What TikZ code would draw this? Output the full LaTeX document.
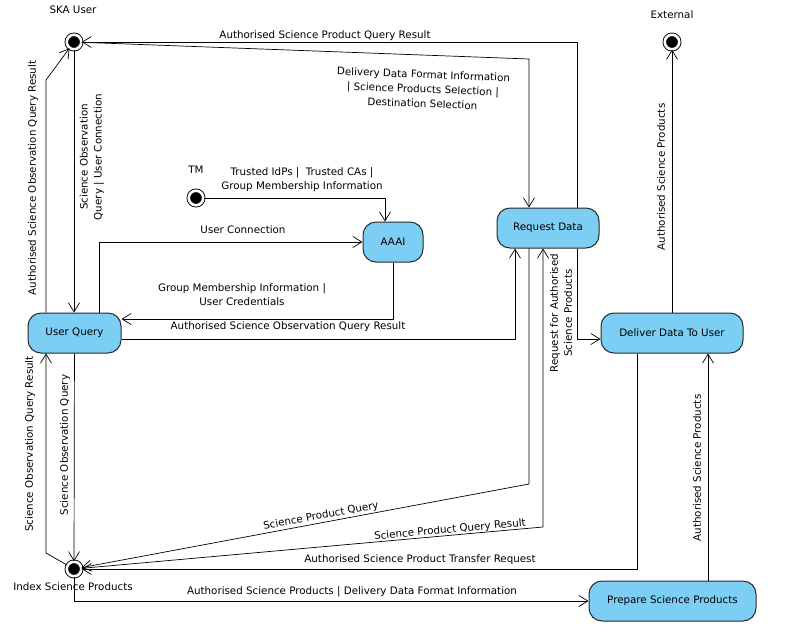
\documentclass[tikz,border=0pt]{standalone}
\usepackage{fontspec}
\setmainfont{DejaVu Sans}
\usetikzlibrary{arrows.meta}
\definecolor{stfill}{RGB}{125,206,245}
\definecolor{stdraw}{RGB}{40,40,40}
\begin{document}
\begin{tikzpicture}[x=1pt,y=-1pt,
  statebox/.style={draw=stdraw,fill=stfill,line width=1pt,rounded corners=13pt,minimum height=40pt,inner sep=0pt,font=\fontsize{10.3}{12}\selectfont},
  fin/.style={circle,draw=black,fill=black,double=white,double distance=2.6pt,line width=0.9pt,minimum size=14.5pt,inner sep=0pt},
  arr/.style={draw,line width=0.7pt,-{Straight Barb[length=9pt,width=11pt,line width=0.7pt]}},
  lbl/.style={font=\fontsize{10.3}{14}\selectfont,align=center,inner sep=0pt},
]
\useasboundingbox (0,0) rectangle (801,625);
\fill[white] (0,0) rectangle (801,625);

% states
\node[statebox,minimum width=93pt] (uq) at (74.5,333) {User Query};
\node[statebox,minimum width=60pt] (aaai) at (393,242) {AAAI};
\node[statebox,minimum width=102pt] (rd) at (548,228) {Request Data};
\node[statebox,minimum width=142pt] (dd) at (672,333) {Deliver Data To User};
\node[statebox,minimum width=167pt] (ps) at (672.5,601) {Prepare Science Products};

% final states
\node[fin] (ska) at (74,42) {};
\node[fin] (ext) at (672,42) {};
\node[fin] (tm) at (196,198) {};
\node[fin] (idx) at (74,569) {};
\node[lbl] (skal) at (73,10) {SKA User};
\node[lbl] (extl) at (672,15) {External};
\node[lbl] (tml) at (196,170) {TM};
\node[lbl] (idxl) at (73,587) {Index Science Products};

% coordinates
\coordinate (c2) at (529,59);
\coordinate (c4) at (46,80);
\coordinate (c9) at (529,484);
\coordinate (c10) at (543,527);
\coordinate (c15) at (46,553);

% connectors
\draw[arr] (rd.north -| 577,0) |- (ska.east);
\draw[arr] (ska) -- (c2) -- (c2 |- rd.north);
\draw[arr] (ska) -- (ska |- uq.north);
\draw[arr] (c4 |- uq.north) -- (c4) -- (ska);
\draw[arr] (tm) -| (aaai.north -| 385,0);
\draw[arr] (uq.north -| 99,0) |- (aaai.west);
\draw[arr] (aaai.south) |- (uq.east |- 0,319);
\draw[arr] (uq.east |- 0,339) -| (rd.south -| 515,0);
\draw[arr] (rd.south -| c9) -- (c9) -- (idx);
\draw[arr] (idx) -- (c10) -- (rd.south -| c10);
\draw[arr] (rd.south -| 577,0) |- (dd.west |- 0,339);
\draw[arr] (dd.south -| 637,0) |- (idx.east);
\draw[arr] (idx.south) |- (ps.west);
\draw[arr] (ps.north -| 708,0) -- (dd.south -| 708,0);
\draw[arr] (dd) -- (ext);
\draw[arr] (idx) -- (c15) -- (uq.south -| c15);
\draw[arr] (uq) -- (idx);

% labels
\node[lbl] at (325,36) {Authorised Science Product Query Result};
\node[lbl,rotate=-2.2,font=\fontsize{10.3}{14.6}\selectfont] at (423,89) {Delivery Data Format Information\\| Science Products Selection |\\Destination Selection};
\node[lbl,rotate=90] at (92,157) {Science Observation\\Query | User Connection};
\node[lbl,rotate=90] at (33,178) {Authorised Science Observation Query Result};
\node[lbl] at (302,180) {Trusted IdPs |\ \ Trusted CAs |\\Group Membership Information};
\node[lbl] at (243,230) {User Connection};
\node[lbl] at (242,295) {Group Membership Information |\\User Credentials};
\node[lbl] at (288,327) {Authorised Science Observation Query Result};
\node[lbl,rotate=90] at (561,313) {Request for Authorised\\Science Products};
\node[lbl,rotate=10.5] at (321,516) {Science Product Query};
\node[lbl,rotate=5.2] at (450,530) {Science Product Query Result};
\node[lbl] at (420,560) {Authorised Science Product Transfer Request};
\node[lbl] at (352,592) {Authorised Science Products | Delivery Data Format Information};
\node[lbl,rotate=90] at (697,468) {Authorised Science Products};
\node[lbl,rotate=90] at (661,177) {Authorised Science Products};
\node[lbl,rotate=90] at (30,444) {Science Observation Query Result};
\node[lbl,rotate=90] at (65,445) {Science Observation Query};
\end{tikzpicture}
\end{document}
